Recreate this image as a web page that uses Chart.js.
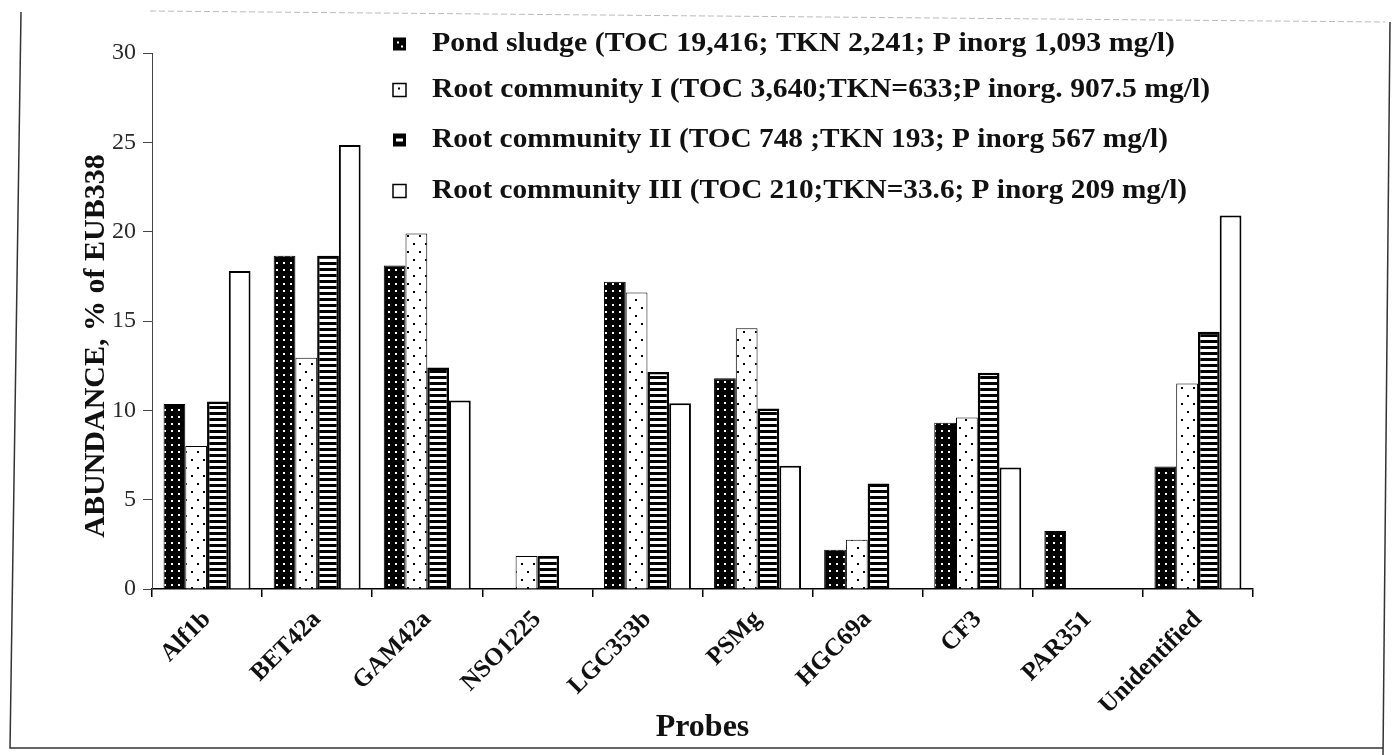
<!DOCTYPE html>
<html>
<head>
<meta charset="utf-8">
<script src="https://cdn.jsdelivr.net/npm/chart.js@4.4.1/dist/chart.umd.min.js"></script>
<style>
  html, body { margin: 0; padding: 0; background: #ffffff; }
  #wrap { width: 1393px; height: 755px; position: relative; }
</style>
</head>
<body>
<div id="wrap"><canvas id="c" width="1393" height="755"></canvas></div>
<script>
// ---- data ----
const categories = ['Alf1b', 'BET42a', 'GAM42a', 'NSO1225', 'LGC353b', 'PSMg', 'HGC69a', 'CF3', 'PAR351', 'Unidentified'];
const seriesLabels = [
  'Pond sludge (TOC 19,416; TKN 2,241; P inorg 1,093 mg/l)',
  'Root community I (TOC 3,640;TKN=633;P inorg. 907.5 mg/l)',
  'Root community II (TOC 748 ;TKN 193; P inorg 567 mg/l)',
  'Root community III (TOC 210;TKN=33.6; P inorg 209 mg/l)'
];
const pondSludge       = [10.35, 18.65, 18.1, 0,    17.2,  11.8, 2.2,  9.3,  3.25, 6.85];
const rootCommunityI   = [8.0,   12.95, 19.9, 1.85, 16.6,  14.6, 2.75, 9.6,  0,    11.5];
const rootCommunityII  = [10.5,  18.65, 12.4, 1.85, 12.15, 10.1, 5.9,  12.1, 0,    14.4];
const rootCommunityIII = [17.8,  24.85, 10.55, 0,   10.4,  6.9,  0,    6.8,  0,    20.9];
const yTicks = [0, 5, 10, 15, 20, 25, 30];
const xTitle = 'Probes';
const yTitle = 'ABUNDANCE, % of EUB338';

// ---- patterns ----
const SERIF = "'Liberation Serif', 'Times New Roman', serif";
function makePattern(w, h, draw) {
  const c = document.createElement('canvas');
  c.width = w; c.height = h;
  const g = c.getContext('2d');
  draw(g, w, h);
  return g.createPattern(c, 'repeat');
}
const pondPattern = makePattern(7, 7, (g) => {
  g.fillStyle = '#000'; g.fillRect(0, 0, 7, 7);
  g.fillStyle = '#fff'; g.fillRect(3, 3, 2, 2);
});
const rc1Pattern = makePattern(12, 16, (g) => {
  g.fillStyle = '#fff'; g.fillRect(0, 0, 12, 16);
  g.fillStyle = '#000'; g.fillRect(5, 3, 2, 2); g.fillRect(11, 11, 1, 2); g.fillRect(0, 11, 1, 2);
});
const rc2Pattern = makePattern(6, 6, (g) => {
  g.fillStyle = '#000'; g.fillRect(0, 0, 6, 6);
  g.fillStyle = '#fff'; g.fillRect(0, 1, 6, 3);
});

const datasets = [
  { label: seriesLabels[0], data: pondSludge, backgroundColor: pondPattern, borderColor: '#000', borderWidth: 1 },
  { label: seriesLabels[1], data: rootCommunityI, backgroundColor: rc1Pattern, borderColor: '#000', borderWidth: 1 },
  { label: seriesLabels[2], data: rootCommunityII, backgroundColor: rc2Pattern, borderColor: '#000', borderWidth: 2.5 },
  { label: seriesLabels[3], data: rootCommunityIII, backgroundColor: '#fff', borderColor: '#000', borderWidth: 2 }
];

// ---- plugins ----
const framePlugin = {
  id: 'frame',
  beforeDraw(chart) {
    const ctx = chart.ctx;
    ctx.save();
    ctx.fillStyle = '#fff';
    ctx.fillRect(0, 0, chart.width, chart.height);
    ctx.strokeStyle = '#333';
    ctx.lineWidth = 1.5;
    ctx.beginPath();
    ctx.moveTo(21, 12); ctx.lineTo(10, 748); ctx.lineTo(1383, 748);
    ctx.stroke();
    ctx.beginPath();
    ctx.moveTo(1390, 22); ctx.lineTo(1383, 755);
    ctx.stroke();
    ctx.strokeStyle = '#bbb';
    ctx.lineWidth = 1;
    ctx.setLineDash([6, 3]);
    ctx.beginPath();
    ctx.moveTo(150, 11); ctx.lineTo(1385, 22);
    ctx.stroke();
    ctx.restore();
  }
};

const legendPlugin = {
  id: 'customLegend',
  afterDraw(chart) {
    const ctx = chart.ctx;
    const rows = [44, 90, 140, 191];
    const targets = [743, 778, 736, 755];
    const boxX = 393, boxS = 13, textX = 432;
    ctx.save();
    chart.data.datasets.forEach((ds, i) => {
      const cy = rows[i];
      const bx = boxX, by = cy - boxS / 2;
      ctx.lineWidth = 1.5;
      ctx.strokeStyle = '#000';
      if (i === 0) {
        ctx.fillStyle = '#000'; ctx.fillRect(bx, by, boxS, boxS);
        ctx.fillStyle = '#fff'; ctx.fillRect(bx + 4, by + 4, 2, 2); ctx.fillRect(bx + 8, by + 8, 2, 2);
      } else if (i === 1) {
        ctx.fillStyle = '#fff'; ctx.fillRect(bx, by, boxS, boxS);
        ctx.strokeRect(bx, by, boxS, boxS);
        ctx.fillStyle = '#000'; ctx.fillRect(bx + 5, by + 4, 2, 2);
      } else if (i === 2) {
        ctx.fillStyle = '#000'; ctx.fillRect(bx, by, boxS, boxS);
        ctx.fillStyle = '#fff'; ctx.fillRect(bx + 3, by + 5, boxS - 6, 3);
      } else {
        ctx.fillStyle = '#fff'; ctx.fillRect(bx, by, boxS, boxS);
        ctx.strokeRect(bx, by, boxS, boxS);
      }
      ctx.font = 'bold 27px ' + SERIF;
      ctx.fillStyle = '#111';
      ctx.textBaseline = 'middle';
      ctx.textAlign = 'left';
      const w = ctx.measureText(ds.label).width;
      let sx = targets[i] / w;
      sx = Math.max(0.8, Math.min(1.25, sx));
      ctx.save();
      ctx.translate(textX, cy);
      ctx.scale(sx, 1);
      ctx.fillText(ds.label, 0, 0);
      ctx.restore();
    });
    // y-axis title
    ctx.save();
    ctx.translate(96, 346);
    ctx.rotate(-Math.PI / 2);
    ctx.font = 'bold 30px ' + SERIF;
    ctx.fillStyle = '#111';
    ctx.textAlign = 'center';
    ctx.textBaseline = 'middle';
    ctx.fillText(yTitle, 0, 0);
    ctx.restore();
    ctx.restore();
  }
};

new Chart(document.getElementById('c'), {
  type: 'bar',
  data: { labels: categories, datasets },
  options: {
    responsive: false,
    animation: false,
    devicePixelRatio: 1,
    layout: { padding: { left: 0, right: 140, top: 53, bottom: 0 } },
    datasets: { bar: { categoryPercentage: 0.79, barPercentage: 1.0 } },
    plugins: { legend: { display: false }, tooltip: { enabled: false } },
    scales: {
      x: {
        grid: { drawOnChartArea: false, drawTicks: true, tickLength: 8, color: '#000', lineWidth: 1.5, offset: true },
        border: { display: true, color: '#000', width: 1.5 },
        ticks: {
          font: { family: SERIF, size: 25, weight: 'bold' },
          color: '#111', maxRotation: 45, minRotation: 45, padding: 8, autoSkip: false
        },
        title: { display: true, text: xTitle, font: { family: SERIF, size: 32, weight: 'bold' }, color: '#111', padding: { top: 0, bottom: 8 } },
        afterFit(scale) { scale.height = 166; }
      },
      y: {
        min: 0, max: 30,
        afterBuildTicks(scale) { scale.ticks = yTicks.map(v => ({ value: v })); },
        grid: { drawOnChartArea: false, drawTicks: true, tickLength: 9, color: '#444', lineWidth: 1 },
        border: { display: true, color: '#444', width: 1 },
        ticks: { font: { family: SERIF, size: 24 }, color: '#2a2a2a', padding: 7 },
        afterFit(scale) { scale.width = 152; }
      }
    }
  },
  plugins: [framePlugin, legendPlugin]
});
</script>
</body>
</html>
